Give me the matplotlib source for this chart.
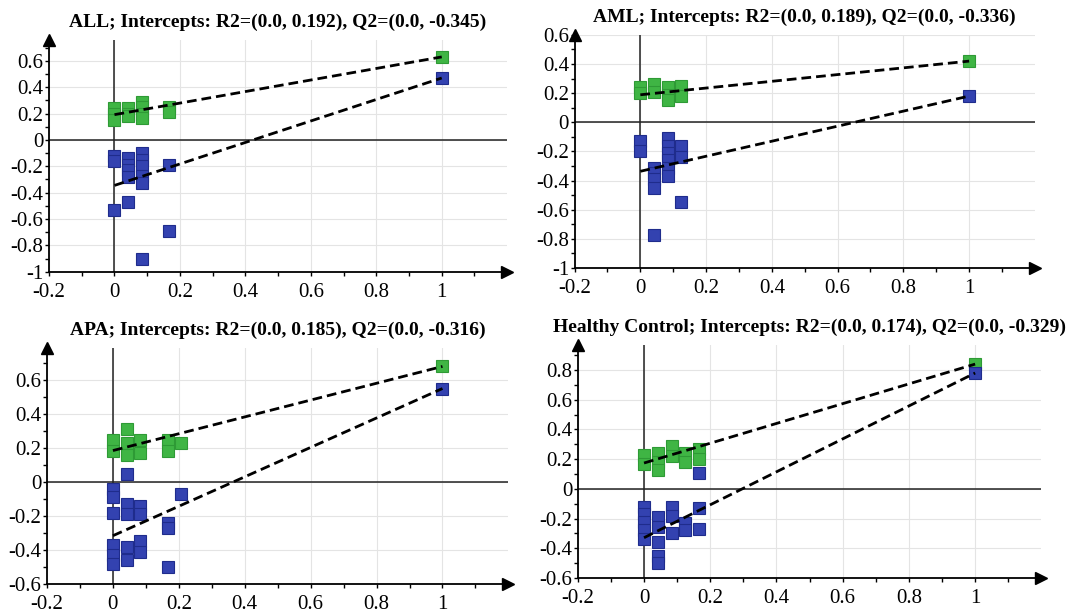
import numpy as np
import matplotlib.pyplot as plt
from matplotlib.ticker import FixedLocator, MultipleLocator, FuncFormatter

plt.rcParams['font.family'] = ['Liberation Serif', 'DejaVu Serif']
plt.rcParams['axes.unicode_minus'] = False

# ALL
all_r2_x = [0, 0, 0, 0.042, 0.042, 0.042, 0.083, 0.083, 0.083, 0.083, 0.167, 0.167, 1]
all_r2_y = [0.24, 0.2, 0.15, 0.24, 0.2, 0.18, 0.29, 0.25, 0.2, 0.17, 0.25, 0.21, 0.63]
all_q2_x = [0, 0, 0, 0.042, 0.042, 0.042, 0.042, 0.042, 0.083, 0.083, 0.083, 0.083, 0.083, 0.083, 0.167, 0.167, 1]
all_q2_y = [-0.12, -0.16, -0.53, -0.14, -0.19, -0.23, -0.28, -0.47, -0.1, -0.15, -0.2, -0.27, -0.33, -0.9, -0.19, -0.69, 0.47]
all_icpt = (0.192, -0.345)

# AML
aml_r2_x = [0, 0, 0.042, 0.042, 0.083, 0.083, 0.083, 0.125, 0.125, 1]
aml_r2_y = [0.24, 0.2, 0.26, 0.21, 0.24, 0.19, 0.15, 0.25, 0.18, 0.42]
aml_q2_x = [0, 0, 0.042, 0.042, 0.042, 0.042, 0.042, 0.083, 0.083, 0.083, 0.083, 0.083, 0.083, 0.125, 0.125, 0.125, 1]
aml_q2_y = [-0.13, -0.2, -0.31, -0.35, -0.39, -0.45, -0.77, -0.11, -0.16, -0.21, -0.26, -0.31, -0.37, -0.16, -0.24, -0.55, 0.18]
aml_icpt = (0.189, -0.336)

# APA
apa_r2_x = [0, 0, 0.042, 0.042, 0.042, 0.083, 0.083, 0.167, 0.167, 0.208, 1]
apa_r2_y = [0.25, 0.18, 0.31, 0.23, 0.16, 0.25, 0.17, 0.25, 0.18, 0.23, 0.68]
apa_q2_x = [0, 0, 0, 0, 0, 0, 0.042, 0.042, 0.042, 0.042, 0.042, 0.083, 0.083, 0.083, 0.083,
            0.167, 0.167, 0.167, 0.208, 1]
apa_q2_y = [-0.04, -0.09, -0.18, -0.37, -0.43, -0.48, 0.05, -0.13, -0.19, -0.38, -0.46, -0.14, -0.19, -0.35, -0.41,
            -0.24, -0.27, -0.5, -0.07, 0.55]
apa_icpt = (0.185, -0.316)

# Healthy Control
hc_r2_x = [0, 0, 0.042, 0.042, 0.042, 0.083, 0.083, 0.125, 0.125, 0.167, 0.167, 1]
hc_r2_y = [0.23, 0.17, 0.24, 0.18, 0.13, 0.29, 0.22, 0.24, 0.18, 0.27, 0.2, 0.84]
hc_q2_x = [0, 0, 0, 0, 0, 0.042, 0.042, 0.042, 0.042, 0.042, 0.083, 0.083, 0.083, 0.125, 0.125,
           0.167, 0.167, 0.167, 1]
hc_q2_y = [-0.12, -0.17, -0.22, -0.28, -0.34, -0.19, -0.26, -0.36, -0.45, -0.5, -0.12, -0.18, -0.3, -0.23, -0.28,
           0.11, -0.13, -0.27, 0.78]
hc_icpt = (0.174, -0.329)

panels = [
    ('ALL', all_r2_x, all_r2_y, all_q2_x, all_q2_y, all_icpt, (-1, 0.76), [0.0455, 0.556, 0.425, 0.379]),
    ('AML', aml_r2_x, aml_r2_y, aml_q2_x, aml_q2_y, aml_icpt, (-1, 0.6), [0.533, 0.562, 0.427, 0.381]),
    ('APA', apa_r2_x, apa_r2_y, apa_q2_x, apa_q2_y, apa_icpt, (-0.6, 0.79), [0.0436, 0.0458, 0.428, 0.386]),
    ('Healthy Control', hc_r2_x, hc_r2_y, hc_q2_x, hc_q2_y, hc_icpt, (-0.6, 0.97), [0.536, 0.0556, 0.43, 0.381]),
]

green = '#3fb544'
blue = '#3342b0'
fmt = FuncFormatter(lambda v, p: f'{round(v, 2) + 0:g}')

fig = plt.figure(figsize=(10.78, 6.12), dpi=100)

for name, gx, gy, bx, by, icpt, ylim, pos in panels:
    ax = fig.add_axes(pos)
    ax.set_xlim(-0.2, 1.2)
    ax.set_ylim(*ylim)
    for s in ['top', 'right']:
        ax.spines[s].set_visible(False)
    ax.spines['left'].set_linewidth(1.3)
    ax.spines['bottom'].set_linewidth(1.3)
    ax.plot(1, ylim[0], '>k', ms=9, transform=ax.get_yaxis_transform(), clip_on=False)
    ax.plot(-0.2, 1, '^k', ms=9, transform=ax.get_xaxis_transform(), clip_on=False)

    ax.xaxis.set_major_locator(FixedLocator(np.arange(-0.2, 1.01, 0.2)))
    ax.xaxis.set_minor_locator(FixedLocator(np.arange(-0.1, 1.11, 0.2)))
    ax.yaxis.set_major_locator(MultipleLocator(0.2))
    ax.yaxis.set_minor_locator(MultipleLocator(0.1))
    ax.xaxis.set_major_formatter(fmt)
    ax.yaxis.set_major_formatter(fmt)
    ax.tick_params(which='both', direction='out', length=3, width=1, labelsize=15)
    ax.tick_params(axis='x', pad=5)
    ax.tick_params(axis='y', pad=1)
    ax.grid(True, which='major', color='#e4e4e4', lw=0.8)
    ax.set_axisbelow(True)

    ax.axhline(0, color='#222222', lw=1.1, zorder=1)
    ax.axvline(0, color='#222222', lw=1.1, zorder=1)

    ax.plot(gx, gy, 's', ms=8.5, color=green, mec='#2e9a35', mew=0.8, zorder=3, clip_on=False)
    ax.plot(bx, by, 's', ms=8.5, color=blue, mec='#1f2c8c', mew=0.8, zorder=3, clip_on=False)

    ax.plot([0, 1], [icpt[0], gy[-1]], '--', color='black', lw=2, dashes=(3.5, 1.8), zorder=4)
    ax.plot([0, 1], [icpt[1], by[-1]], '--', color='black', lw=2, dashes=(3.5, 1.8), zorder=4)

    ax.set_title(f'{name}; Intercepts: R2=(0.0, {icpt[0]}), Q2=(0.0, {icpt[1]})',
                 fontsize=14, fontweight='bold', pad=9)

fig.savefig('out.png', dpi=100)
